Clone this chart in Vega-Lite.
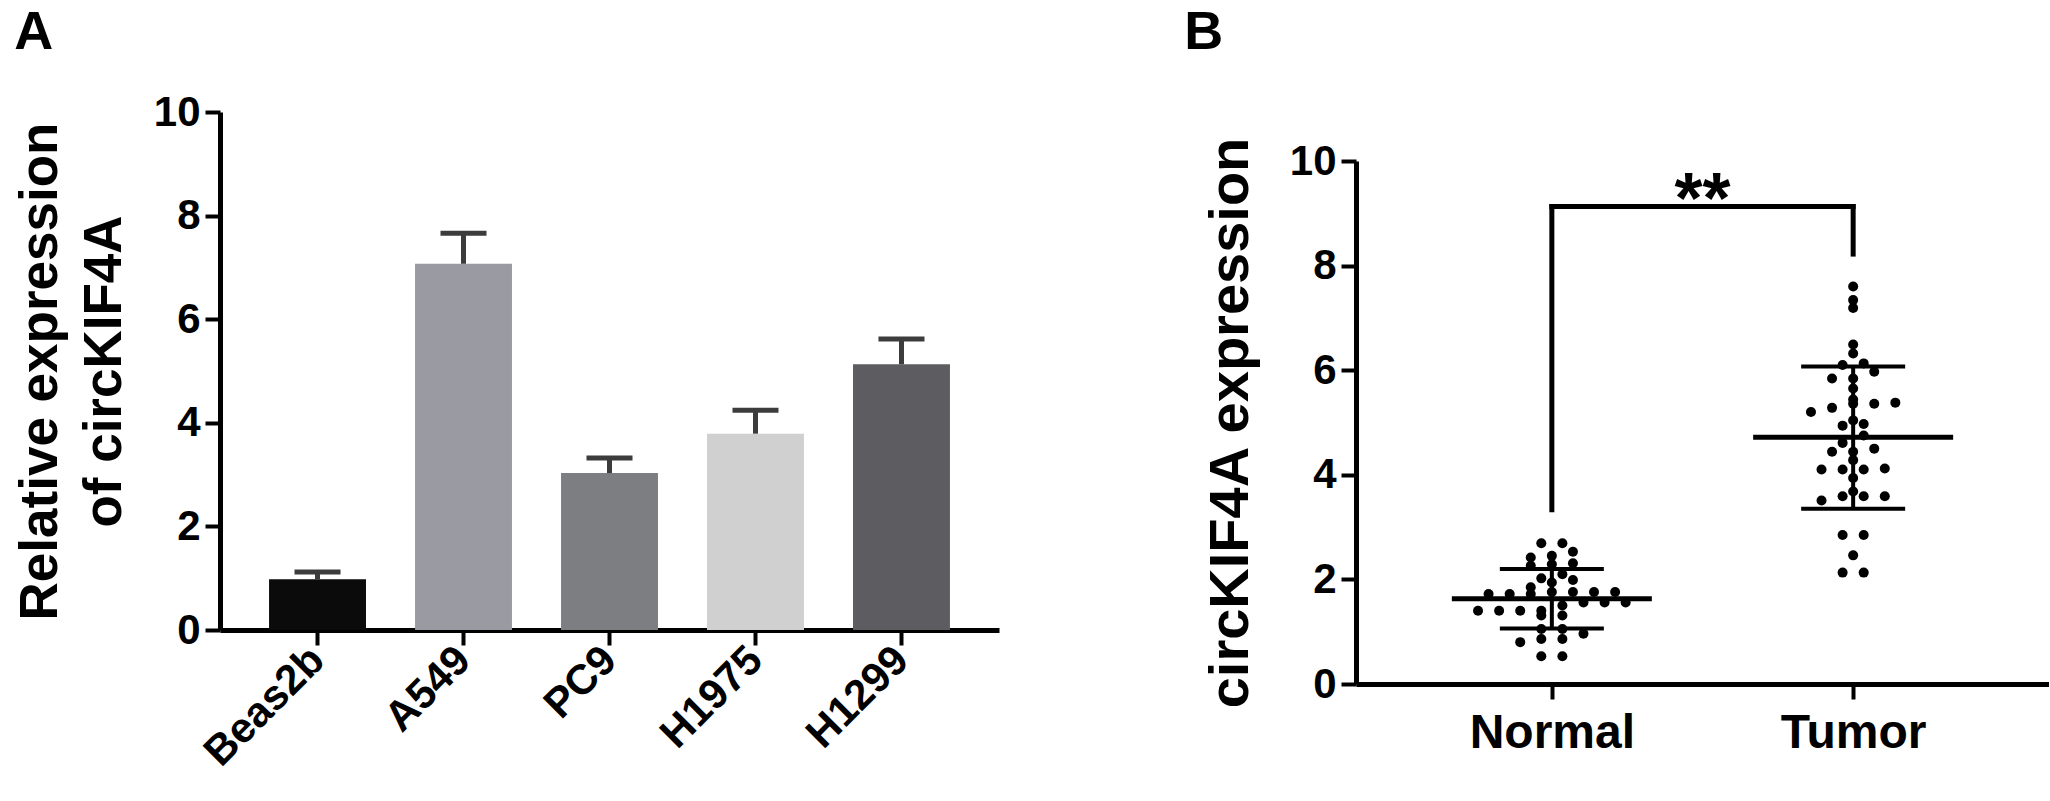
{
  "$schema": "https://vega.github.io/schema/vega-lite/v6.json",
  "background": "white",
  "padding": {"left": 14, "top": 6, "right": 0, "bottom": 0},
  "config": {
    "view": {"stroke": null},
    "font": "Liberation Sans",
    "axis": {
      "domainColor": "black", "domainWidth": 5, "tickColor": "black", "tickWidth": 4, "tickSize": 15,
      "labelFont": "Liberation Sans", "labelFontWeight": "bold", "labelFontSize": 42, "labelColor": "black",
      "titleFont": "Liberation Sans", "titleFontWeight": "bold", "titleColor": "black", "grid": false, "zindex": 1
    },
    "title": {"font": "Liberation Sans", "fontWeight": "bold", "fontSize": 54, "color": "black", "anchor": "start", "frame": "bounds"},
    "concat": {"spacing": 185}
  },
  "datasets": {
    "bars": [
      {"cell": "Beas2b", "value": 0.98, "upper": 1.12},
      {"cell": "A549", "value": 7.07, "upper": 7.66},
      {"cell": "PC9", "value": 3.03, "upper": 3.32},
      {"cell": "H1975", "value": 3.79, "upper": 4.24},
      {"cell": "H1299", "value": 5.13, "upper": 5.62}
    ],
    "points": [
      {"group": "Normal", "value": 2.69}, {"group": "Normal", "value": 2.69},
      {"group": "Normal", "value": 2.53},
      {"group": "Normal", "value": 2.45}, {"group": "Normal", "value": 2.42},
      {"group": "Normal", "value": 2.31}, {"group": "Normal", "value": 2.29},
      {"group": "Normal", "value": 2.26},
      {"group": "Normal", "value": 2.10},
      {"group": "Normal", "value": 2.02},
      {"group": "Normal", "value": 1.99},
      {"group": "Normal", "value": 1.94},
      {"group": "Normal", "value": 1.85},
      {"group": "Normal", "value": 1.76}, {"group": "Normal", "value": 1.76}, {"group": "Normal", "value": 1.76}, {"group": "Normal", "value": 1.76},
      {"group": "Normal", "value": 1.72}, {"group": "Normal", "value": 1.72}, {"group": "Normal", "value": 1.72},
      {"group": "Normal", "value": 1.56}, {"group": "Normal", "value": 1.56}, {"group": "Normal", "value": 1.56},
      {"group": "Normal", "value": 1.50},
      {"group": "Normal", "value": 1.40}, {"group": "Normal", "value": 1.40}, {"group": "Normal", "value": 1.40}, {"group": "Normal", "value": 1.40},
      {"group": "Normal", "value": 1.31}, {"group": "Normal", "value": 1.31},
      {"group": "Normal", "value": 1.05}, {"group": "Normal", "value": 1.05},
      {"group": "Normal", "value": 0.96},
      {"group": "Normal", "value": 0.86}, {"group": "Normal", "value": 0.86},
      {"group": "Normal", "value": 0.80},
      {"group": "Normal", "value": 0.53}, {"group": "Normal", "value": 0.53},
      {"group": "Tumor", "value": 7.60}, {"group": "Tumor", "value": 7.34}, {"group": "Tumor", "value": 7.19},
      {"group": "Tumor", "value": 6.49}, {"group": "Tumor", "value": 6.32}, {"group": "Tumor", "value": 6.13},
      {"group": "Tumor", "value": 6.10}, {"group": "Tumor", "value": 5.97}, {"group": "Tumor", "value": 5.84},
      {"group": "Tumor", "value": 5.84}, {"group": "Tumor", "value": 5.65}, {"group": "Tumor", "value": 5.44},
      {"group": "Tumor", "value": 5.38}, {"group": "Tumor", "value": 5.36}, {"group": "Tumor", "value": 5.36},
      {"group": "Tumor", "value": 5.28}, {"group": "Tumor", "value": 5.20}, {"group": "Tumor", "value": 5.04},
      {"group": "Tumor", "value": 4.97}, {"group": "Tumor", "value": 4.94}, {"group": "Tumor", "value": 4.75},
      {"group": "Tumor", "value": 4.61}, {"group": "Tumor", "value": 4.50}, {"group": "Tumor", "value": 4.44},
      {"group": "Tumor", "value": 4.44}, {"group": "Tumor", "value": 4.28}, {"group": "Tumor", "value": 4.12},
      {"group": "Tumor", "value": 4.10}, {"group": "Tumor", "value": 4.10}, {"group": "Tumor", "value": 4.10},
      {"group": "Tumor", "value": 3.94}, {"group": "Tumor", "value": 3.68}, {"group": "Tumor", "value": 3.59},
      {"group": "Tumor", "value": 3.59}, {"group": "Tumor", "value": 3.59}, {"group": "Tumor", "value": 3.51},
      {"group": "Tumor", "value": 2.85}, {"group": "Tumor", "value": 2.85}, {"group": "Tumor", "value": 2.46},
      {"group": "Tumor", "value": 2.13}, {"group": "Tumor", "value": 2.13}
    ],
    "summary": [
      {"group": "Normal", "mean": 1.63, "sdlo": 1.06, "sdhi": 2.20},
      {"group": "Tumor", "mean": 4.72, "sdlo": 3.35, "sdhi": 6.07}
    ],
    "bracket": [
      {"x": 1, "x2": 2, "y": 9.13, "y2": 9.13},
      {"x": 1, "x2": 1, "y": 3.33, "y2": 9.13},
      {"x": 2, "x2": 2, "y": 8.22, "y2": 9.13}
    ],
    "sig": [{"x": 1.5, "y": 9.13, "label": "**"}]
  },
  "hconcat": [
    {
      "title": {"text": "A", "offset": 31},
      "width": 779,
      "height": 518,
      "data": {"name": "bars"},
      "encoding": {
        "x": {
          "field": "cell", "type": "nominal", "sort": null,
          "scale": {"paddingInner": 0.336, "paddingOuter": 0.336},
          "axis": {"title": null, "labelAngle": -45, "labelAlign": "right", "labelBaseline": "middle", "labelPadding": 8, "labelFontSize": 42}
        }
      },
      "layer": [
        {
          "mark": {"type": "bar"},
          "encoding": {
            "y": {
              "field": "value", "type": "quantitative",
              "scale": {"domain": [0, 10], "nice": false},
              "axis": {"values": [0, 2, 4, 6, 8, 10], "format": "d", "title": ["Relative expression", "of circKIF4A"], "titleFontSize": 53, "titleLineHeight": 64, "titlePadding": 22, "labelPadding": 5}
            },
            "color": {
              "field": "cell", "type": "nominal", "sort": null, "legend": null,
              "scale": {"domain": ["Beas2b", "A549", "PC9", "H1975", "H1299"], "range": ["#0b0b0b", "#9a9ba2", "#7d7e82", "#d0d0d0", "#5d5d61"]}
            }
          }
        },
        {
          "mark": {"type": "rule", "strokeWidth": 5, "color": "#3c3c3c"},
          "encoding": {"y": {"field": "value", "type": "quantitative"}, "y2": {"field": "upper"}}
        },
        {
          "mark": {"type": "tick", "orient": "horizontal", "size": 46, "thickness": 5, "color": "#3c3c3c", "opacity": 1},
          "encoding": {"y": {"field": "upper", "type": "quantitative"}}
        }
      ]
    },
    {
      "title": {"text": "B", "offset": 52, "dx": -18},
      "width": 693,
      "height": 572,
      "layer": [
        {
          "data": {"name": "points"},
          "transform": [
            {"bin": {"step": 0.2}, "field": "value", "as": "vbin"},
            {"window": [{"op": "row_number", "as": "rank"}], "groupby": ["group", "vbin"], "sort": [{"field": "value"}]},
            {"joinaggregate": [{"op": "count", "as": "n"}], "groupby": ["group", "vbin"]},
            {"calculate": "(datum.group == 'Normal' ? 1 : 2) + (datum.rank - (datum.n + 1) / 2) * 0.07", "as": "xpos"}
          ],
          "mark": {"type": "circle", "size": 100, "color": "black", "opacity": 1},
          "encoding": {
            "x": {
              "field": "xpos", "type": "quantitative",
              "scale": {"domain": [0.35, 2.65], "nice": false, "zero": false},
              "axis": {"values": [1, 2], "labelExpr": "datum.value == 1 ? 'Normal' : 'Tumor'", "title": null, "labelFontSize": 48, "labelPadding": 10}
            },
            "y": {
              "field": "value", "type": "quantitative",
              "scale": {"domain": [0, 10], "nice": false, "range": [572, 49]},
              "axis": {"values": [0, 2, 4, 6, 8, 10], "format": "d", "title": "circKIF4A expression", "titleFontSize": 56, "titlePadding": 30, "labelPadding": 5}
            }
          }
        },
        {
          "data": {"name": "summary"},
          "transform": [{"calculate": "datum.group == 'Normal' ? 1 : 2", "as": "pos"}],
          "layer": [
            {
              "mark": {"type": "rule", "strokeWidth": 4, "color": "black"},
              "encoding": {"x": {"field": "pos", "type": "quantitative"}, "y": {"field": "sdlo", "type": "quantitative"}, "y2": {"field": "sdhi"}}
            },
            {
              "mark": {"type": "tick", "orient": "horizontal", "size": 200, "thickness": 5, "color": "black", "opacity": 1},
              "encoding": {"x": {"field": "pos", "type": "quantitative"}, "y": {"field": "mean", "type": "quantitative"}}
            },
            {
              "mark": {"type": "tick", "orient": "horizontal", "size": 104, "thickness": 4, "color": "black", "opacity": 1},
              "encoding": {"x": {"field": "pos", "type": "quantitative"}, "y": {"field": "sdlo", "type": "quantitative"}}
            },
            {
              "mark": {"type": "tick", "orient": "horizontal", "size": 104, "thickness": 4, "color": "black", "opacity": 1},
              "encoding": {"x": {"field": "pos", "type": "quantitative"}, "y": {"field": "sdhi", "type": "quantitative"}}
            }
          ]
        },
        {
          "data": {"name": "bracket"},
          "mark": {"type": "rule", "strokeWidth": 5, "color": "black", "strokeCap": "square"},
          "encoding": {
            "x": {"field": "x", "type": "quantitative"}, "x2": {"field": "x2"},
            "y": {"field": "y", "type": "quantitative"}, "y2": {"field": "y2"}
          }
        },
        {
          "data": {"name": "sig"},
          "mark": {"type": "text", "fontSize": 72, "fontWeight": "bold", "font": "Liberation Sans", "align": "center", "baseline": "alphabetic", "dy": 16, "color": "black"},
          "encoding": {
            "x": {"field": "x", "type": "quantitative"},
            "y": {"field": "y", "type": "quantitative"},
            "text": {"field": "label"}
          }
        }
      ]
    }
  ]
}
